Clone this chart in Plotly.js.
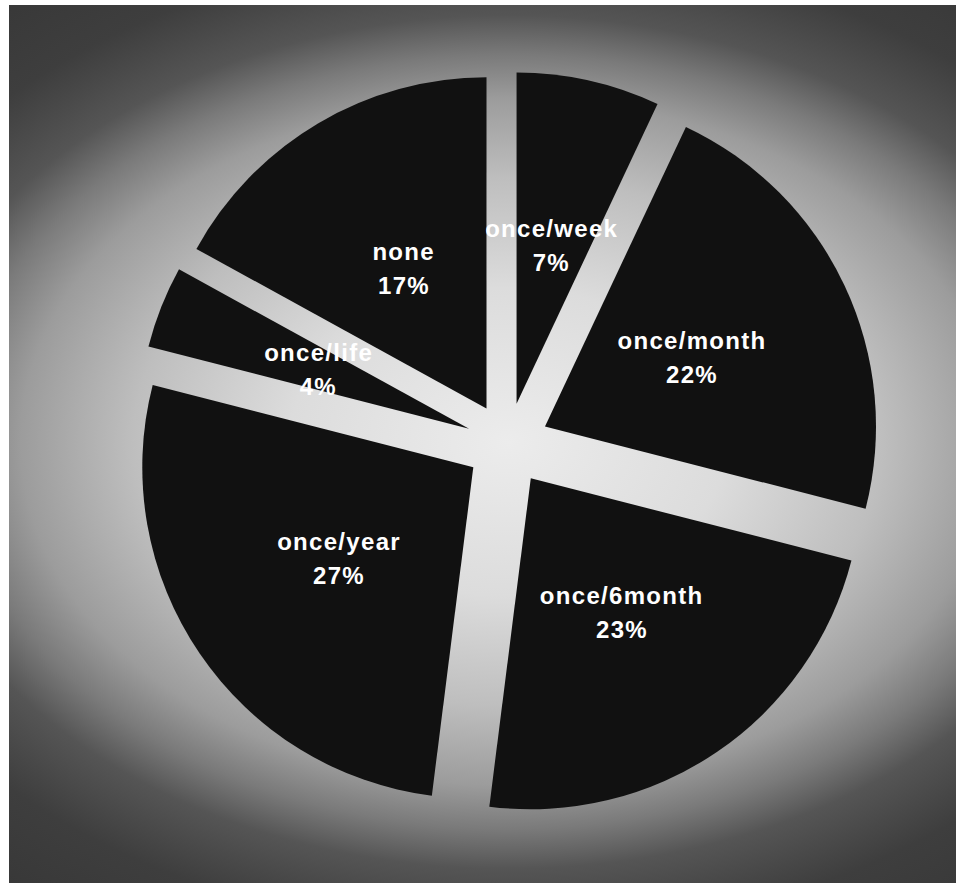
<!DOCTYPE html>
<html>
<head>
<meta charset="utf-8">
<script src="https://cdn.plot.ly/plotly-3.0.1.min.js"></script>
<style>
  html, body { margin: 0; padding: 0; background: #ffffff; }
  #wrap { position: relative; width: 956px; height: 883px; overflow: hidden; }
  #backdrop {
    position: absolute; left: 9px; top: 5px; right: 0; bottom: 0;
    background: radial-gradient(625px 440px at 499px 437px,
      #ececec 0%, #dcdcdc 35%, #bebebe 60%, #9c9c9c 78%,
      #7a7a7a 88%, #555555 97%, #3e3e3e 112%, #343434 140%);
  }
  #chart { position: absolute; left: 0; top: 0; width: 956px; height: 883px; }
  /* slice captions are set with slightly open tracking */
  #chart .annotation-text { letter-spacing: 1.3px; }
</style>
</head>
<body>
<div id="wrap">
  <div id="backdrop"></div>
  <div id="chart"></div>
</div>
<script>
// Survey answers: how often, share of respondents (%)
const categories = ['once/week', 'once/month', 'once/6month', 'once/year', 'once/life', 'none'];
const shares = [7, 22, 23, 27, 4, 17];

const W = 956, H = 883;
const PULL = 0.125;
const domainX = [0.1413, 0.9205];
const domainY = [0.0754, 0.9189];

// Pie geometry as Plotly derives it from the domain (zero margins)
const boxW = W * (domainX[1] - domainX[0]);
const boxH = H * (domainY[1] - domainY[0]);
const radius = Math.min(boxW, boxH) / 2 / (1 + PULL);
const cx = W * (domainX[0] + domainX[1]) / 2;
const cy = H * (1 - domainY[0]) - boxH / 2;

// Labels sit along each slice bisector, inside the pulled-out slice
const total = shares.reduce((a, b) => a + b, 0);
const annotations = [];
let cum = 0;
const labelFont = { family: 'Liberation Sans, Arial, sans-serif', size: 24, color: '#ffffff', weight: 'bold' };
shares.forEach((v, i) => {
  const mid = (cum + v / 2) / total * 2 * Math.PI;
  cum += v;
  const dist = radius * (PULL + 0.49);
  const px = cx + dist * Math.sin(mid);
  const py = cy - dist * Math.cos(mid);
  const base = { xref: 'paper', yref: 'paper', x: px / W, y: 1 - py / H,
                 xanchor: 'center', yanchor: 'middle', showarrow: false, font: labelFont };
  annotations.push(Object.assign({}, base, { text: '<b>' + categories[i] + '</b>', yshift: 17 }));
  annotations.push(Object.assign({}, base, { text: '<b>' + v + '%</b>', yshift: -17 }));
});

const trace = {
  type: 'pie',
  labels: categories,
  values: shares,
  sort: false,
  direction: 'clockwise',
  rotation: 0,
  pull: categories.map(() => PULL),
  domain: { x: domainX, y: domainY },
  marker: { colors: categories.map(() => '#111111'), line: { width: 0 } },
  textinfo: 'none',
  hoverinfo: 'label+percent',
  showlegend: false
};

const layout = {
  width: W, height: H,
  margin: { l: 0, r: 0, t: 0, b: 0 },
  paper_bgcolor: 'rgba(0,0,0,0)',
  plot_bgcolor: 'rgba(0,0,0,0)',
  showlegend: false,
  annotations: annotations
};

Plotly.newPlot('chart', [trace], layout, { displayModeBar: false, staticPlot: true });
</script>
</body>
</html>
